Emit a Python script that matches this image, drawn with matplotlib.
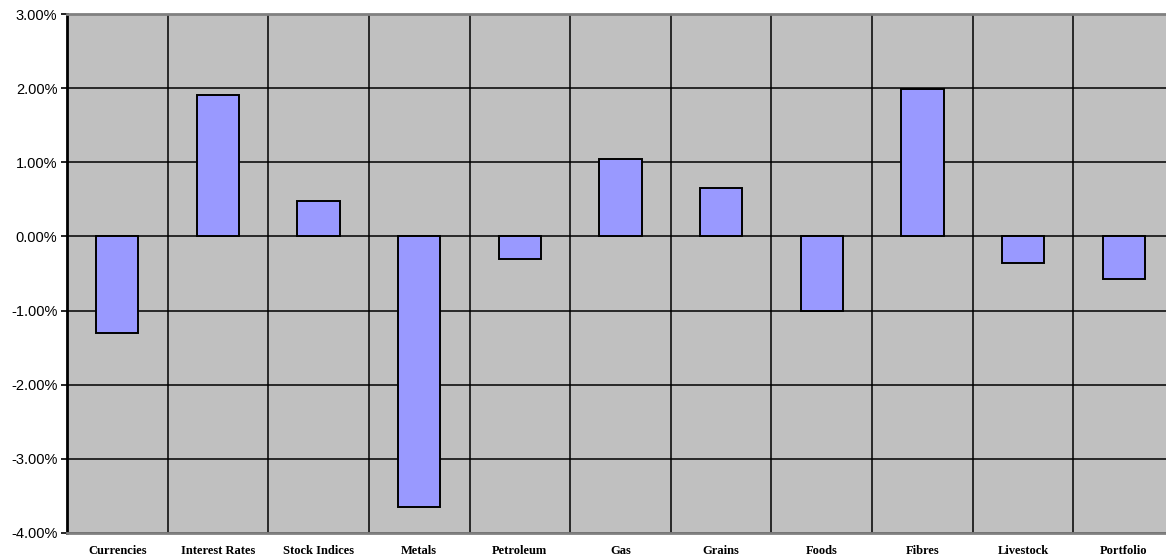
import matplotlib
matplotlib.use("Agg")
import matplotlib.pyplot as plt
import numpy as np
from matplotlib.ticker import FuncFormatter, FixedLocator

categories = ["Currencies", "Interest Rates", "Stock Indices", "Metals", "Petroleum",
              "Gas", "Grains", "Foods", "Fibres", "Livestock", "Portfolio"]
values = [-1.30, 1.91, 0.48, -3.65, -0.30, 1.04, 0.65, -1.01, 1.99, -0.36, -0.57]
y_ticks = [-4, -3, -2, -1, 0, 1, 2, 3]

fig = plt.figure(figsize=(11.66, 5.57), dpi=100)
ax = fig.add_axes([67/1166, 1-533/557, 1107/1166, 519/557])
ax.set_facecolor("#C0C0C0")

x = np.arange(len(categories))
ax.bar(x, values, width=0.42, color="#9999FF", edgecolor="black", linewidth=1.4, zorder=3)

ax.set_xlim(-0.5, len(categories) - 0.5)
ax.set_ylim(-4, 3)
ax.set_yticks(y_ticks)
ax.yaxis.set_major_formatter(FuncFormatter(lambda v, p: f"{v:.2f}%"))
ax.set_xticks(x)
ax.set_xticklabels(categories, fontfamily="Liberation Serif", fontweight="bold", fontsize=9)
ax.xaxis.set_minor_locator(FixedLocator(np.arange(len(categories) + 1) - 0.5))

for lbl in ax.get_yticklabels():
    lbl.set_fontfamily("Liberation Sans")
    lbl.set_fontsize(10.5)

ax.tick_params(axis="x", which="both", length=0, pad=9)
ax.tick_params(axis="y", length=4, width=1.2, color="black", pad=3)

ax.grid(axis="y", which="major", color="black", linewidth=1.1, zorder=1)
ax.grid(axis="x", which="minor", color="black", linewidth=1.1, zorder=1)
ax.set_axisbelow(True)

ax.spines["left"].set_color("black")
ax.spines["left"].set_linewidth(2)
ax.spines["top"].set_color("#808080")
ax.spines["top"].set_linewidth(2)
ax.spines["bottom"].set_color("#808080")
ax.spines["bottom"].set_linewidth(2)
ax.spines["right"].set_visible(False)

fig.savefig("out.png", dpi=100)
